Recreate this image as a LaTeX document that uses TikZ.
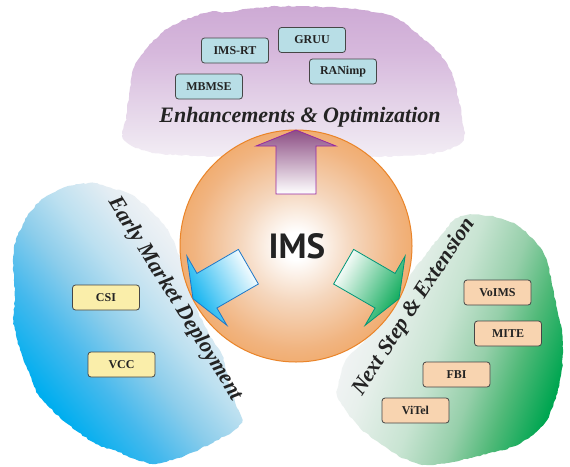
\documentclass[tikz,border=0pt]{standalone}
\usepackage{fontspec}
\usetikzlibrary{decorations.pathmorphing}
\setmainfont{Liberation Serif}
\newfontfamily\imsfont{PT Sans}
\definecolor{cpurple}{RGB}{198,158,206}
\definecolor{cpurpleM}{RGB}{214,184,220}
\definecolor{cpurpleL}{RGB}{238,230,241}
\definecolor{cblue}{RGB}{0,174,239}
\definecolor{cblueA}{RGB}{70,185,237}
\definecolor{cblueB}{RGB}{140,205,235}
\definecolor{cblueC}{RGB}{188,224,240}
\definecolor{cblueD}{RGB}{228,237,243}
\definecolor{cgreen}{RGB}{0,166,81}
\definecolor{cgreenA}{RGB}{80,185,120}
\definecolor{cgreenB}{RGB}{150,207,170}
\definecolor{cgreenC}{RGB}{200,228,210}
\definecolor{cgreenD}{RGB}{232,240,236}
\definecolor{cpale}{RGB}{243,244,246}
\definecolor{corange}{RGB}{239,150,58}
\definecolor{corangeA}{RGB}{240,158,80}
\definecolor{corangeB}{RGB}{241,180,128}
\definecolor{corangeC}{RGB}{245,215,190}
\definecolor{corangeD}{RGB}{234,132,40}
\definecolor{arrpurple}{RGB}{140,78,132}
\definecolor{arrpurpleD}{RGB}{150,40,160}
\definecolor{arrblueD}{RGB}{30,120,200}
\definecolor{arrgreenD}{RGB}{0,150,120}
\definecolor{boxblue}{RGB}{184,222,230}
\definecolor{boxyellow}{RGB}{250,238,170}
\definecolor{boxpeach}{RGB}{248,212,176}
\definecolor{boxline}{RGB}{70,70,70}
\definecolor{textdark}{RGB}{35,35,35}
\pgfdeclareverticalshading{purplefade}{100bp}{color(0bp)=(white); color(14bp)=(white); color(30bp)=(cpurpleL); color(60bp)=(cpurpleM); color(88bp)=(cpurple); color(100bp)=(cpurple)}
\pgfdeclareverticalshading{bluefade}{100bp}{color(0bp)=(cblue); color(28bp)=(cblue); color(38bp)=(cblueA); color(47bp)=(cblueB); color(55bp)=(cblueC); color(64bp)=(cblueD); color(70bp)=(cpale); color(100bp)=(cpale)}
\pgfdeclareverticalshading{greenfade}{100bp}{color(0bp)=(cgreen); color(25bp)=(cgreen); color(34bp)=(cgreenA); color(42bp)=(cgreenB); color(52bp)=(cgreenC); color(64bp)=(cgreenD); color(72bp)=(cpale); color(100bp)=(cpale)}
\pgfdeclareradialshading{orb}{\pgfpoint{0bp}{0bp}}{color(0bp)=(white); color(3bp)=(white); color(12bp)=(corangeC); color(22bp)=(corangeB); color(32bp)=(corangeA); color(40bp)=(corange); color(100bp)=(corange)}
\pgfmathsetseed{7}
\begin{document}
\begin{tikzpicture}[x=1pt,y=-1pt,
  box/.style={draw=boxline, line width=0.8pt, rounded corners=3pt,
    minimum width=67pt, minimum height=25pt, inner sep=0pt,
    font=\fontsize{12}{12}\selectfont\bfseries, text=textdark},
  bluebox/.style={box, fill=boxblue},
  yellowbox/.style={box, fill=boxyellow},
  peachbox/.style={box, fill=boxpeach},
  title/.style={font=\fontsize{22}{22}\selectfont\bfseries\itshape, text=textdark, inner sep=0pt},
  arrowshape/.style={line width=0.8pt, line join=miter},
  ragged/.style={decorate, decoration={random steps, segment length=3pt, amplitude=0.7pt}}
]
\useasboundingbox (0,0) rectangle (570,466);
\fill[white] (0,0) rectangle (570,466);

% top cloud
\shade[shading=purplefade, ragged] plot[smooth cycle, tension=0.55] coordinates {
 (124,140) (126,118) (129,97) (132,75) (138,60) (148,47) (163,32) (180,22)
 (195,16) (210,12) (228,12) (245,9) (265,7) (297,6) (320,7) (343,8) (362,10)
 (380,13) (398,19) (415,32) (432,46) (446,62) (454,80) (458,97) (462,118)
 (463,140) (440,152) (400,156) (300,157) (200,156) (150,152)};

% left cloud
\shade[shading=bluefade, shading angle=-50, ragged] plot[smooth cycle, tension=0.5] coordinates {
 (27,217) (40,201) (55,192) (68,186) (80,184) (94,183) (108,187)
 (132,195) (152,212) (166,228) (175,244) (185,275) (195,305) (208,332) (222,355)
 (228,378) (235,402) (242,420)
 (232,432) (215,441) (200,449) (178,458) (155,464) (135,459)
 (118,452) (96,444) (78,432) (65,422) (50,408) (38,394) (30,375) (22,355)
 (16,335) (13,318) (15,298) (14,280) (13,262) (14,248) (18,235)};

% right cloud
\shade[shading=greenfade, shading angle=70, ragged] plot[smooth cycle, tension=0.5] coordinates {
 (337,395) (340,378) (346,360) (367,338) (387,308) (407,279) (430,249)
 (453,221) (467,215) (490,216) (505,220) (518,226) (532,238) (542,250)
 (548,265) (552,285) (556,305) (561,325) (563,350) (561,375) (555,400)
 (547,420) (535,433) (515,446) (495,452) (470,458) (447,463) (428,465)
 (410,461) (392,452) (375,440) (360,428) (347,412)};

% titles
\node[title] (t1) at (300,117) {Enhancements \& Optimization};
\node[title, rotate=-58] (t2) at (175,299) {Early Market Deployment};
\node[title, rotate=57] (t3) at (414,307) {Next Step \& Extension};

% boxes
\node[bluebox] (imsrt) at (235,50.5) {IMS-RT};
\node[bluebox] (gruu) at (312,40) {GRUU};
\node[bluebox] (ranimp) at (343,71.5) {RANimp};
\node[bluebox] (mbmse) at (209,86.5) {MBMSE};
\node[yellowbox] (csi) at (106,297.5) {CSI};
\node[yellowbox] (vcc) at (121.5,364.5) {VCC};
\node[peachbox] (voims) at (497.5,292.5) {VoIMS};
\node[peachbox] (mite) at (508,333.5) {MITE};
\node[peachbox] (fbi) at (456.5,374.5) {FBI};
\node[peachbox] (vitel) at (415.5,410.5) {ViTel};

% central sphere
\shade[shading=orb, draw=corangeD, line width=1pt] (296,246) circle (116);

% arrows
\shade[arrowshape, top color=arrpurple, bottom color=white, draw=arrpurpleD]
 (296,130) -- (336,146) -- (316,146) -- (316,194) -- (276,194) -- (276,146) -- (256,146) -- cycle;
\shade[arrowshape, shading=axis, top color=white, bottom color=cblue, shading angle=-60, draw=arrblueD]
 (193,298.7) -- (226.9,325.3) -- (216.9,308.0) -- (258.4,284.0) -- (238.4,249.4) -- (196.9,273.4) -- (186.9,256.1) -- cycle;
\shade[arrowshape, shading=axis, top color=white, bottom color=cgreen, shading angle=60, draw=arrgreenD]
 (399,298.7) -- (365.1,325.3) -- (375.1,308.0) -- (333.6,284.0) -- (353.6,249.4) -- (395.1,273.4) -- (405.1,256.1) -- cycle;

\node[font=\imsfont\bfseries\fontsize{35}{35}\selectfont, text=textdark, inner sep=0pt] (ims) at (297,246) {IMS};
\end{tikzpicture}
\end{document}
